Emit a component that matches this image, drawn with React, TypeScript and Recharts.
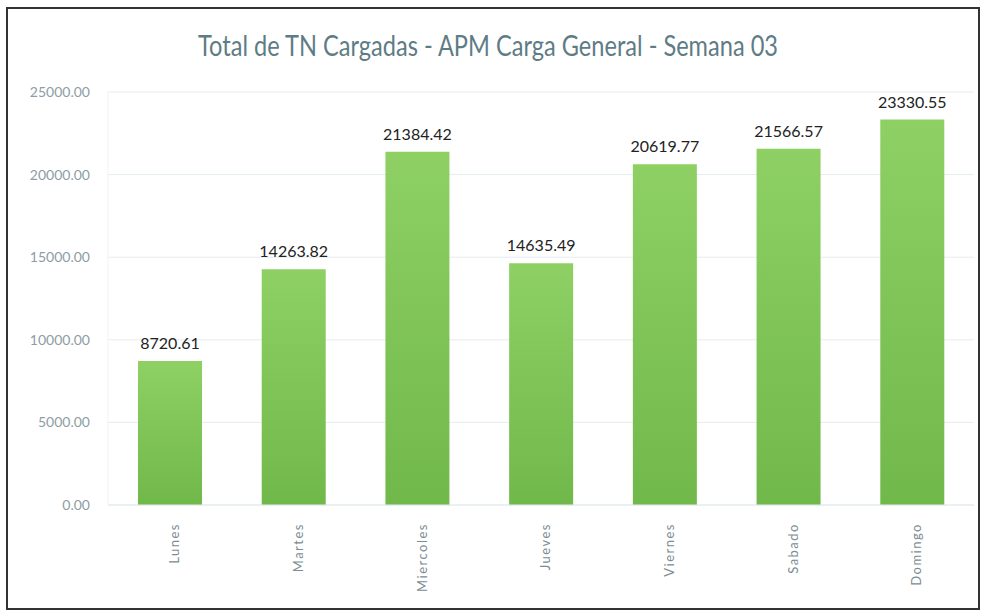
import { BarChart, Bar, XAxis, YAxis, CartesianGrid, LabelList } from "recharts";

const days = ["Lunes", "Martes", "Miercoles", "Jueves", "Viernes", "Sabado", "Domingo"];
const tons = [8720.61, 14263.82, 21384.42, 14635.49, 20619.77, 21566.57, 23330.55];
const yTicks = [0, 5000, 10000, 15000, 20000, 25000];

const data = days.map((day, i) => ({ day, tons: tons[i] }));

const TITLE = "Total de TN Cargadas - APM Carga General - Semana 03";

export default function App() {
  return (
    <div
      style={{
        position: "absolute",
        left: 0,
        top: 0,
        width: 984,
        height: 610,
        background: "#fff",
        overflow: "hidden",
        fontFamily: "Lato, sans-serif",
      }}
    >
      {/* scanned frame */}
      <div
        style={{
          position: "absolute",
          left: 6,
          top: 7,
          width: 974,
          height: 603,
          border: "2px solid #333",
          boxSizing: "border-box",
        }}
      />
      <svg width={984} height={80} style={{ position: "absolute", left: 0, top: 0 }}>
        <text
          x={198}
          y={56}
          fontSize={28}
          fill="#5e7c85"
          textLength={580}
          lengthAdjust="spacingAndGlyphs"
          fontFamily="Lato, sans-serif"
        >
          {TITLE}
        </text>
      </svg>
      <div style={{ position: "absolute", left: 0, top: 0 }}>
        <BarChart
          width={984}
          height={610}
          data={data}
          margin={{ top: 92, right: 10, left: 8, bottom: 5 }}
        >
          <defs>
            <linearGradient id="barGreen" x1="0" y1="0" x2="0" y2="1">
              <stop offset="0%" stopColor="#8ed064" />
              <stop offset="100%" stopColor="#71b84a" />
            </linearGradient>
          </defs>
          <CartesianGrid vertical={false} stroke="#e4ecee" />
          <XAxis
            dataKey="day"
            interval={0}
            height={100}
            tickLine={false}
            axisLine={{ stroke: "#e4ecee" }}
            angle={-90}
            textAnchor="end"
            tickSize={0}
            tickMargin={14}
            tick={{ fill: "#7c8c92", fontSize: 13, letterSpacing: 1.5, dy: 4 }}
          />
          <YAxis
            type="number"
            domain={[0, 25000]}
            ticks={yTicks}
            width={100}
            tickLine={false}
            axisLine={{ stroke: "#eef2f3" }}
            tickSize={0}
            tickMargin={18}
            tickFormatter={(v) => v.toFixed(2)}
            tick={{ fill: "#8d9da3", fontSize: 14 }}
          />
          <Bar dataKey="tons" fill="url(#barGreen)" barSize={64} isAnimationActive={false}>
            <LabelList
              dataKey="tons"
              position="top"
              offset={12}
              formatter={(v: number) => v.toFixed(2)}
              style={{ fill: "#222", fontSize: 16, fontFamily: "Lato, sans-serif" }}
            />
          </Bar>
        </BarChart>
      </div>
    </div>
  );
}
